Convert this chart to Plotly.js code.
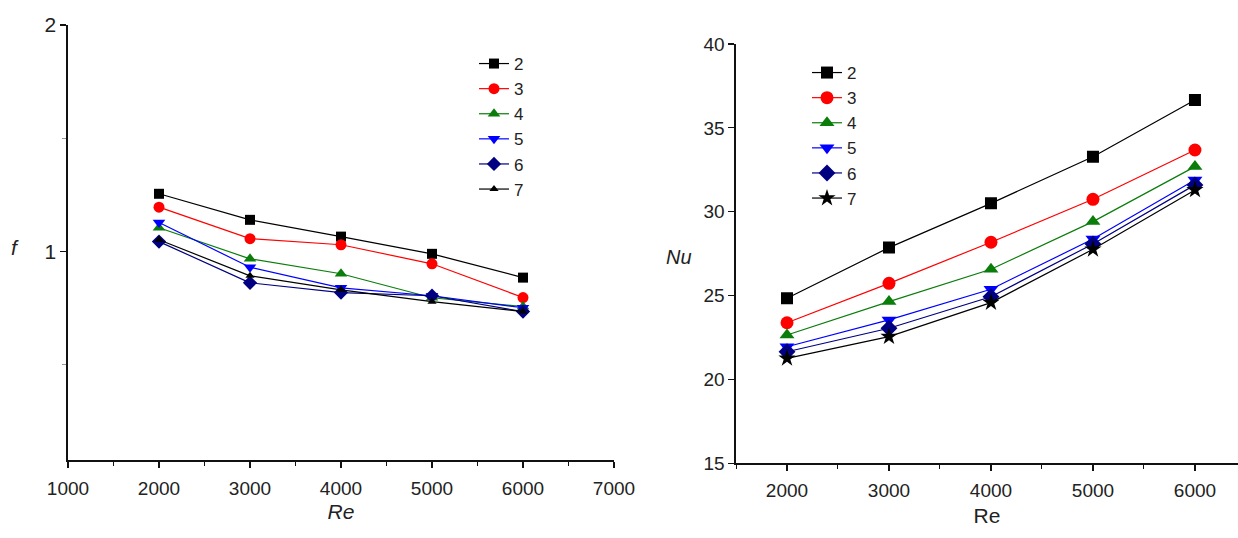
<!DOCTYPE html>
<html>
<head>
<meta charset="utf-8">
<script src="https://cdn.plot.ly/plotly-3.0.1.min.js"></script>
<style>html,body{margin:0;padding:0;background:#fff;}#chart{width:1238px;height:538px;}</style>
</head>
<body>
<div id="chart"></div>
<script>
// Data
const re = [2000, 3000, 4000, 5000, 6000];
const seriesNames = ['2', '3', '4', '5', '6', '7'];

// Left panel: friction factor f
const f2 = [1.255, 1.140, 1.066, 0.990, 0.885];
const f3 = [1.196, 1.057, 1.030, 0.946, 0.797];
const f4 = [1.105, 0.968, 0.902, 0.796, 0.757];
const f5 = [1.128, 0.931, 0.840, 0.805, 0.752];
const f6 = [1.044, 0.862, 0.819, 0.805, 0.735];
const f7 = [1.052, 0.893, 0.831, 0.779, 0.735];

// Right panel: Nusselt number Nu
const nu2 = [24.84, 27.86, 30.50, 33.28, 36.66];
const nu3 = [23.38, 25.73, 28.18, 30.74, 33.68];
const nu4 = [22.65, 24.64, 26.57, 29.41, 32.69];
const nu5 = [21.95, 23.55, 25.38, 28.37, 31.89];
const nu6 = [21.65, 23.05, 24.93, 28.08, 31.60];
const nu7 = [21.26, 22.55, 24.58, 27.76, 31.30];

const colors = ['#000000', '#ff0000', '#0a7d0a', '#0000ff', '#000080', '#000000'];
const leftSymbols = ['square', 'circle', 'triangle-up', 'triangle-down', 'diamond', 'triangle-up'];
const rightSymbols = ['square', 'circle', 'triangle-up', 'triangle-down', 'diamond', 'star'];
const leftSizes = [10, 11, 11, 11, 11, 8];
const rightSizes = [12, 13, 13, 13, 13, 13];

const fData = [f2, f3, f4, f5, f6, f7];
const nuData = [nu2, nu3, nu4, nu5, nu6, nu7];

const traces = [];
fData.forEach((ys, i) => {
  traces.push({
    x: re, y: ys, name: seriesNames[i], type: 'scatter', mode: 'lines+markers',
    xaxis: 'x', yaxis: 'y', legend: 'legend',
    line: {color: colors[i], width: 1.2},
    marker: {symbol: leftSymbols[i], size: leftSizes[i], color: colors[i]}
  });
});
nuData.forEach((ys, i) => {
  traces.push({
    x: re, y: ys, name: seriesNames[i], type: 'scatter', mode: 'lines+markers',
    xaxis: 'x2', yaxis: 'y2', legend: 'legend2',
    line: {color: colors[i], width: 1.2},
    marker: {symbol: rightSymbols[i], size: rightSizes[i], color: colors[i]}
  });
});

const FONT = 'Liberation Sans, Arial, sans-serif';
const axisCommon = {
  showline: true, linecolor: '#111', linewidth: 1.6,
  ticks: 'outside', ticklen: 6, tickwidth: 1.2, tickcolor: '#111',
  showgrid: false, zeroline: false, mirror: false,
  tickfont: {family: FONT, size: 19, color: '#222'}
};

const layout = {
  width: 1238, height: 538,
  margin: {l: 0, r: 0, t: 0, b: 0},
  paper_bgcolor: '#fff', plot_bgcolor: '#fff',
  font: {family: FONT, color: '#222'},
  showlegend: true,
  xaxis: Object.assign({}, axisCommon, {
    domain: [68/1238, 614/1238], range: [1000, 7000], dtick: 1000, tick0: 1000,
    anchor: 'y', ticklabelstandoff: 5,
    minor: {dtick: 500, ticks: 'outside', ticklen: 4, tickcolor: '#111', tickwidth: 1},
    title: {text: '<i>Re</i>', font: {family: FONT, size: 21, color: '#222'}, standoff: 6}
  }),
  yaxis: Object.assign({}, axisCommon, {
    domain: [1 - 460/538, 1 - 25/538], range: [0.08, 2], dtick: 1, tick0: 0,
    anchor: 'x',
    tickfont: {family: FONT, size: 21, color: '#222'},
    minor: {dtick: 0.5, ticks: 'outside', ticklen: 4, tickcolor: '#999', tickwidth: 1}
  }),
  xaxis2: Object.assign({}, axisCommon, {
    domain: [736/1238, 1], range: [1500, 6422], dtick: 1000, tick0: 1000,
    anchor: 'y2', ticklabelstandoff: 3,
    tickfont: {family: FONT, size: 19, color: '#222'},
    minor: {dtick: 500, ticks: 'outside', ticklen: 4, tickcolor: '#111', tickwidth: 1},
    title: {text: 'Re', font: {family: FONT, size: 21, color: '#222'}, standoff: 8}
  }),
  yaxis2: Object.assign({}, axisCommon, {
    domain: [1 - 463.3/538, 1 - 44/538], range: [15, 40], dtick: 5,
    anchor: 'x2',
    tickfont: {family: FONT, size: 19, color: '#222'}
  }),
  annotations: [
    {text: '<i>f</i>', xref: 'paper', yref: 'paper', x: 15/1238, y: 1 - 247/538,
     xanchor: 'center', yanchor: 'middle', showarrow: false,
     font: {family: FONT, size: 21, color: '#222'}},
    {text: '<i>Nu</i>', xref: 'paper', yref: 'paper', x: 679/1238, y: 1 - 257/538,
     xanchor: 'center', yanchor: 'middle', showarrow: false,
     font: {family: FONT, size: 20, color: '#222'}}
  ],
  legend: {
    x: 474/1238, y: 1 - 46/538, xanchor: 'left', yanchor: 'top',
    bgcolor: 'rgba(0,0,0,0)', borderwidth: 0,
    font: {family: FONT, size: 17, color: '#222'}, tracegroupgap: 0, itemwidth: 30
  },
  legend2: {
    x: 807/1238, y: 1 - 55/538, xanchor: 'left', yanchor: 'top',
    bgcolor: 'rgba(0,0,0,0)', borderwidth: 0,
    font: {family: FONT, size: 17, color: '#222'}, tracegroupgap: 0, itemwidth: 30
  }
};

Plotly.newPlot('chart', traces, layout, {displayModeBar: false, staticPlot: true});
</script>
</body>
</html>
